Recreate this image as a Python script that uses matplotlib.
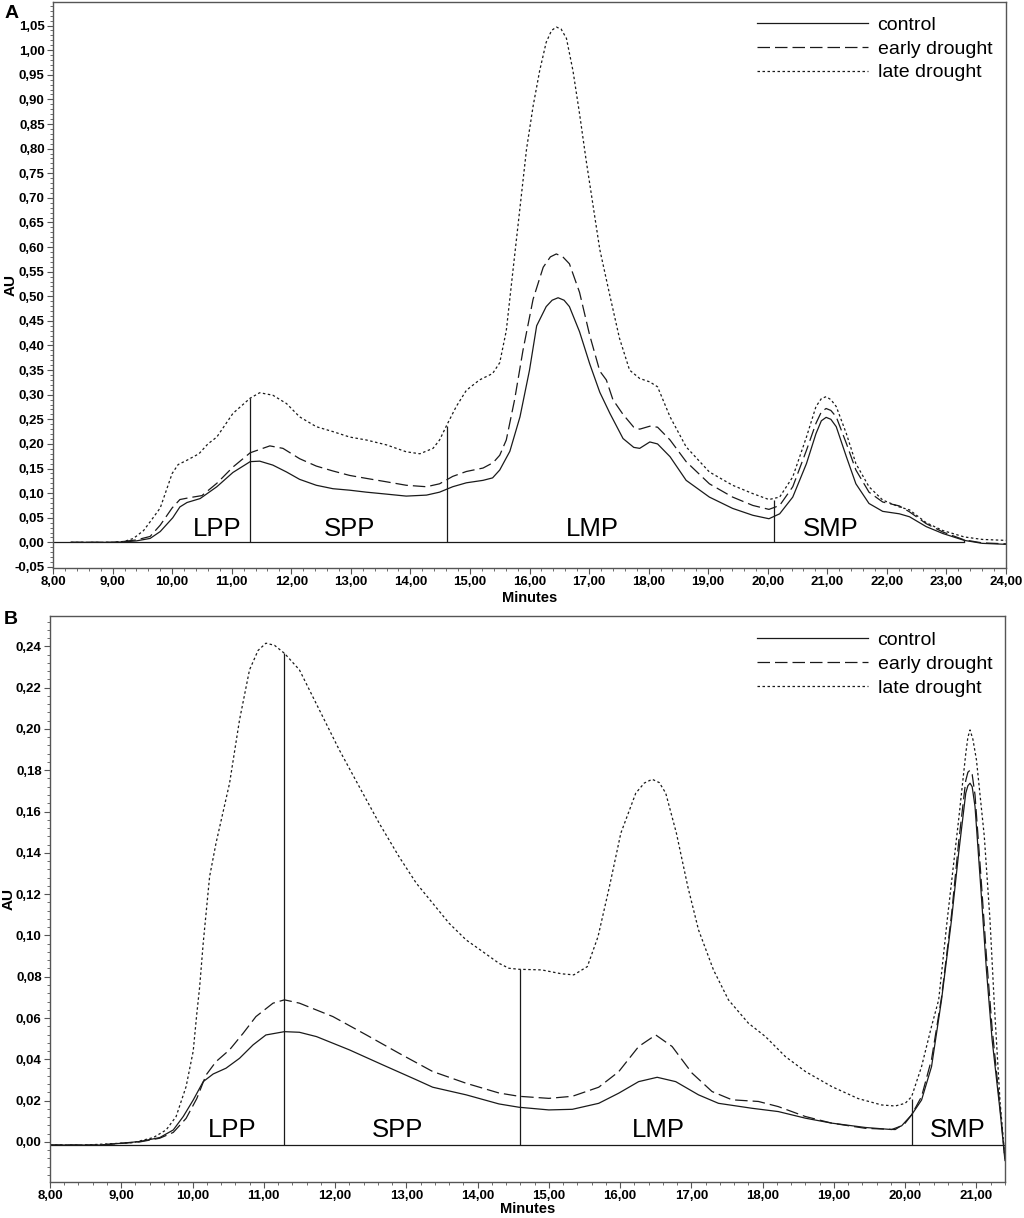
import matplotlib
matplotlib.use("Agg")
import matplotlib.pyplot as plt
from matplotlib.ticker import MultipleLocator, FuncFormatter

plt.rcParams['font.family'] = ['Liberation Sans', 'DejaVu Sans']

# ---- panel A data (minutes, AU) ----
t_a_control = [8.3, 9.0, 9.2, 9.4, 9.63, 9.8, 10.01, 10.13, 10.25, 10.47, 10.75, 11.02, 11.31, 11.47,
               11.69, 11.92, 12.14, 12.42, 12.70, 12.98, 13.26, 13.6, 13.93, 14.27, 14.49, 14.71, 14.94,
               15.22, 15.38, 15.5, 15.67, 15.84, 16.0, 16.12, 16.28, 16.38, 16.48, 16.58, 16.67, 16.84, 17.01,
               17.18, 17.35, 17.57, 17.75, 17.85, 18.02, 18.15, 18.36, 18.63, 19.02, 19.41, 19.75, 20.02, 20.2,
               20.42, 20.65, 20.81, 20.9, 20.98, 21.06, 21.15, 21.32, 21.48, 21.7, 21.93, 22.21, 22.38, 22.66,
               22.94, 23.3, 23.6, 24.0]
v_a_control = [0.0, 0.0, 0.001, 0.003, 0.008, 0.022, 0.05, 0.072, 0.081, 0.089, 0.113, 0.142, 0.164, 0.165,
               0.157, 0.143, 0.128, 0.116, 0.109, 0.106, 0.102, 0.098, 0.094, 0.096, 0.102, 0.113, 0.121,
               0.126, 0.131, 0.147, 0.185, 0.255, 0.35, 0.44, 0.479, 0.492, 0.497, 0.492, 0.479, 0.428, 0.363,
               0.305, 0.262, 0.211, 0.193, 0.191, 0.204, 0.2, 0.174, 0.126, 0.092, 0.069, 0.055, 0.048, 0.058,
               0.092, 0.16, 0.221, 0.247, 0.254, 0.25, 0.235, 0.174, 0.119, 0.079, 0.063, 0.058, 0.052, 0.032,
               0.018, 0.004, -0.002, -0.004]

t_a_early = [8.3, 9.0, 9.2, 9.4, 9.63, 9.8, 10.0, 10.13, 10.3, 10.5, 10.75, 11.02, 11.31, 11.64, 11.86,
             12.14, 12.42, 12.70, 12.98, 13.26, 13.6, 13.93, 14.27, 14.49, 14.71, 14.94, 15.22, 15.39, 15.5,
             15.61, 15.75, 15.89, 16.06, 16.23, 16.35, 16.45, 16.56, 16.67, 16.84, 17.01, 17.18, 17.29, 17.40,
             17.57, 17.75, 17.85, 18.02, 18.15, 18.36, 18.63, 19.02, 19.41, 19.75, 20.02, 20.2, 20.42, 20.65,
             20.81, 20.9, 20.98, 21.06, 21.15, 21.32, 21.48, 21.7, 21.93, 22.21, 22.38, 22.66, 22.94, 23.3,
             23.6, 24.0]
v_a_early = [0.0, 0.0, 0.002, 0.005, 0.012, 0.035, 0.07, 0.087, 0.091, 0.095, 0.12, 0.153, 0.182, 0.196, 0.191,
             0.170, 0.155, 0.145, 0.136, 0.130, 0.123, 0.116, 0.113, 0.119, 0.134, 0.144, 0.151, 0.162, 0.177,
             0.208, 0.29, 0.39, 0.494, 0.559, 0.58, 0.586, 0.58, 0.566, 0.508, 0.421, 0.348, 0.33, 0.29,
             0.26, 0.234, 0.230, 0.236, 0.234, 0.208, 0.164, 0.119, 0.092, 0.075, 0.067, 0.075, 0.113, 0.187,
             0.242, 0.265, 0.272, 0.268, 0.255, 0.201, 0.147, 0.102, 0.082, 0.074, 0.062, 0.038, 0.021, 0.005,
             -0.001, -0.003]

t_a_late = [8.3, 9.0, 9.2, 9.35, 9.52, 9.65, 9.8, 9.9, 10.0, 10.1, 10.25, 10.45, 10.6, 10.75, 11.02, 11.31,
            11.47, 11.69, 11.92, 12.14, 12.42, 12.70, 12.98, 13.26, 13.6, 13.93, 14.16, 14.38, 14.49, 14.61,
            14.77, 14.94, 15.16, 15.38, 15.5, 15.61, 15.72, 15.84, 15.95, 16.06, 16.17, 16.28, 16.37, 16.45,
            16.53, 16.62, 16.73, 16.84, 16.95, 17.07, 17.18, 17.35, 17.51, 17.68, 17.85, 18.02, 18.15, 18.36,
            18.63, 19.02, 19.41, 19.75, 20.02, 20.2, 20.42, 20.65, 20.81, 20.9, 20.98, 21.06, 21.15, 21.32,
            21.48, 21.7, 21.93, 22.21, 22.38, 22.66, 22.94, 23.3, 23.6, 24.0]
v_a_late = [0.0, 0.0, 0.002, 0.008, 0.024, 0.045, 0.07, 0.105, 0.14, 0.158, 0.167, 0.18, 0.2, 0.214, 0.262, 0.293,
            0.304, 0.299, 0.282, 0.255, 0.235, 0.225, 0.214, 0.208, 0.198, 0.184, 0.180, 0.191, 0.208, 0.238,
            0.276, 0.309, 0.330, 0.343, 0.365, 0.43, 0.55, 0.68, 0.799, 0.886, 0.958, 1.016, 1.04, 1.047,
            1.043, 1.024, 0.958, 0.871, 0.777, 0.682, 0.595, 0.501, 0.415, 0.35, 0.333, 0.326, 0.316, 0.255,
            0.194, 0.143, 0.116, 0.099, 0.087, 0.092, 0.133, 0.214, 0.276, 0.292, 0.296, 0.29, 0.276, 0.221,
            0.160, 0.113, 0.086, 0.072, 0.066, 0.040, 0.024, 0.011, 0.006, 0.004]

# ---- panel B data ----
t_b_control = [8.0, 8.7, 8.98, 9.26, 9.54, 9.73, 9.87, 10.01, 10.15, 10.29, 10.47, 10.66, 10.85, 11.03, 11.29,
               11.5, 11.74, 12.2, 12.67, 13.14, 13.37, 13.84, 14.3, 14.58, 15.0, 15.33, 15.70, 15.98, 16.26,
               16.52, 16.78, 17.10, 17.38, 17.85, 18.22, 18.60, 18.97, 19.44, 19.81, 19.95, 20.09, 20.23,
               20.37, 20.51, 20.65, 20.75, 20.85, 20.88, 20.91, 20.94, 20.98, 21.06, 21.14, 21.22, 21.33, 21.4]
v_b_control = [-0.0015, -0.0015, -0.0007, 0.0002, 0.0021, 0.0058, 0.0123, 0.0203, 0.0292, 0.0329, 0.0357,
               0.0405, 0.047, 0.0518, 0.0534, 0.0531, 0.051, 0.0446, 0.0373, 0.0301, 0.0265, 0.0228, 0.0184,
               0.0168, 0.0155, 0.0158, 0.0187, 0.0236, 0.0292, 0.0313, 0.0292, 0.0228, 0.0187, 0.0163,
               0.0147, 0.0115, 0.0091, 0.007, 0.006, 0.0078, 0.0131, 0.0203, 0.0365, 0.0688, 0.1075, 0.1398,
               0.1689, 0.1725, 0.1737, 0.172, 0.1624, 0.1236, 0.0833, 0.0494, 0.0155, -0.009]

t_b_early = [8.0, 8.7, 9.26, 9.54, 9.73, 9.91, 10.06, 10.19, 10.33, 10.52, 10.71, 10.89, 11.13, 11.29, 11.5,
             11.97, 12.44, 12.9, 13.37, 13.84, 14.3, 14.58, 15.0, 15.33, 15.70, 15.98, 16.26, 16.50, 16.73,
             17.01, 17.29, 17.57, 17.94, 18.22, 18.60, 18.97, 19.44, 19.86, 20.0, 20.09, 20.23, 20.37, 20.51,
             20.65, 20.75, 20.85, 20.88, 20.91, 20.94, 20.98, 21.06, 21.14, 21.22, 21.33, 21.4]
v_b_early = [-0.0015, -0.0015, 0.0, 0.0018, 0.0046, 0.0114, 0.021, 0.0324, 0.0389, 0.0446, 0.0526, 0.0607,
             0.0672, 0.0688, 0.0672, 0.0607, 0.0518, 0.0429, 0.0341, 0.0284, 0.0237, 0.0221, 0.0211, 0.0221,
             0.0265, 0.034, 0.0462, 0.0518, 0.0462, 0.0333, 0.0244, 0.0204, 0.0196, 0.0171, 0.0123, 0.0091,
             0.0066, 0.006, 0.0091, 0.0131, 0.022, 0.04, 0.07, 0.11, 0.145, 0.175, 0.179, 0.18, 0.178, 0.168,
             0.13, 0.09, 0.055, 0.017, -0.008]

t_b_late = [8.0, 8.5, 9.17, 9.45, 9.63, 9.77, 9.91, 10.01, 10.06, 10.1, 10.15, 10.24, 10.33, 10.52, 10.66,
            10.80, 10.92, 11.03, 11.15, 11.29, 11.5, 11.78, 12.06, 12.34, 12.62, 12.90, 13.14, 13.37, 13.60,
            13.84, 14.07, 14.30, 14.44, 14.58, 14.90, 15.18, 15.35, 15.54, 15.69, 15.85, 16.01, 16.22, 16.34,
            16.45, 16.55, 16.64, 16.79, 16.95, 17.10, 17.31, 17.52, 17.80, 18.04, 18.32, 18.60, 18.97, 19.34,
            19.67, 19.86, 20.0, 20.09, 20.23, 20.37, 20.47, 20.59, 20.75, 20.85, 20.88, 20.91, 20.95, 21.0,
            21.11, 21.19, 21.25, 21.33, 21.4]
v_b_late = [-0.0015, -0.0015, -0.0003, 0.0021, 0.0058, 0.0123, 0.0268, 0.044, 0.062, 0.075, 0.0962, 0.1285,
            0.1447, 0.1737, 0.2044, 0.2286, 0.238, 0.2415, 0.2405, 0.2366, 0.2286, 0.2092, 0.1898, 0.172,
            0.1543, 0.138, 0.1253, 0.1156, 0.1059, 0.0978, 0.0922, 0.0865, 0.0841, 0.0836, 0.0833, 0.0814,
            0.0809, 0.0849, 0.0994, 0.1236, 0.1495, 0.1689, 0.1738, 0.1756, 0.174, 0.1689, 0.1495, 0.1236,
            0.1027, 0.0833, 0.0688, 0.0575, 0.051, 0.0413, 0.0341, 0.0268, 0.021, 0.0179, 0.0174, 0.0187,
            0.0219, 0.0365, 0.056, 0.0688, 0.1075, 0.156, 0.188, 0.196, 0.1995, 0.195, 0.185, 0.148, 0.1075,
            0.067, 0.02, -0.008]

# integration marks and region names
regions = ['LPP', 'SPP', 'LMP', 'SMP']
cuts_a = [11.31, 14.61, 20.10, 23.30]
cut_tops_a = [0.293, 0.236, 0.087, 0.006]
label_x_a = [10.75, 12.98, 17.06, 21.05]
cuts_b = [11.29, 14.59, 20.09]
cut_tops_b = [0.2366, 0.0836, 0.021]
label_x_b = [10.56, 12.87, 16.53, 20.73]

series_names = ['control', 'early drought', 'late drought']

ink = '#1a1a1a'
comma = FuncFormatter(lambda v, p: f"{v:.2f}".replace('.', ','))


def style_axes(ax):
    for s in ax.spines.values():
        s.set_color('#555555')
        s.set_linewidth(1.0)
    ax.tick_params(which='both', direction='out', color='#555555', labelsize=9.5, pad=2)
    ax.tick_params(which='major', length=4)
    ax.tick_params(which='minor', length=2)
    ax.xaxis.set_major_formatter(comma)
    ax.yaxis.set_major_formatter(comma)
    for lab in ax.get_xticklabels() + ax.get_yticklabels():
        lab.set_fontweight('bold')
    ax.set_xlabel('Minutes', fontsize=10.5, fontweight='bold')
    ax.set_ylabel('AU', fontsize=11, fontweight='bold')


def draw_curves(ax, curves):
    styles = [dict(linestyle='-'), dict(dashes=(10, 4)), dict(dashes=(2, 2))]
    for (t, v), name, st in zip(curves, series_names, styles):
        ax.plot(t, v, color=ink, lw=0.9, label=name, solid_joinstyle='round', **st)


fig = plt.figure(figsize=(10.24, 12.18), dpi=100)

# ---------- panel A ----------
axA = fig.add_axes([0.0518, 0.5337, 0.9306, 0.4647])
draw_curves(axA, [(t_a_control, v_a_control), (t_a_early, v_a_early), (t_a_late, v_a_late)])
axA.plot([8.0, cuts_a[-1]], [0.0, 0.0], color=ink, lw=0.9)
axA.vlines(cuts_a, 0.0, cut_tops_a, color=ink, lw=0.9)
for name, x in zip(regions, label_x_a):
    axA.text(x, 0.013, name, ha='center', va='baseline', fontsize=18.5)
axA.set_xlim(8, 24)
axA.set_ylim(-0.052, 1.098)
axA.xaxis.set_major_locator(MultipleLocator(1))
axA.xaxis.set_minor_locator(MultipleLocator(0.2))
axA.yaxis.set_major_locator(MultipleLocator(0.05))
axA.yaxis.set_minor_locator(MultipleLocator(0.01))
style_axes(axA)
axA.yaxis.set_label_coords(-0.0375, 0.5)
axA.xaxis.set_label_coords(0.5, -0.041)
axA.legend(loc='upper left', bbox_to_anchor=(0.7387, 0.975), frameon=False, fontsize=14,
           handlelength=5.7, handletextpad=0.5, labelspacing=0.32, borderpad=0, borderaxespad=0)
fig.text(0.004, 0.989, 'A', fontsize=14, fontweight='bold', va='center', ha='left')

# ---------- panel B ----------
axB = fig.add_axes([0.0488, 0.02956, 0.9326, 0.46474])
draw_curves(axB, [(t_b_control, v_b_control), (t_b_early, v_b_early), (t_b_late, v_b_late)])
axB.plot([8.0, 21.4], [-0.0015, -0.0015], color=ink, lw=0.9)
axB.vlines(cuts_b, -0.0015, cut_tops_b, color=ink, lw=0.9)
for name, x in zip(regions, label_x_b):
    axB.text(x, 0.0026, name, ha='center', va='baseline', fontsize=18.5)
axB.set_xlim(8, 21.4)
axB.set_ylim(-0.0194, 0.2547)
axB.xaxis.set_major_locator(MultipleLocator(1))
axB.xaxis.set_minor_locator(MultipleLocator(0.2))
axB.yaxis.set_major_locator(MultipleLocator(0.02))
axB.yaxis.set_minor_locator(MultipleLocator(0.004))
style_axes(axB)
axB.yaxis.set_label_coords(-0.036, 0.5)
axB.xaxis.set_label_coords(0.5, -0.036)
axB.legend(loc='upper left', bbox_to_anchor=(0.7403, 0.973), frameon=False, fontsize=14,
           handlelength=5.7, handletextpad=0.5, labelspacing=0.32, borderpad=0, borderaxespad=0)
fig.text(0.004, 0.491, 'B', fontsize=14, fontweight='bold', va='center', ha='left')

fig.savefig('out.png', dpi=100)
